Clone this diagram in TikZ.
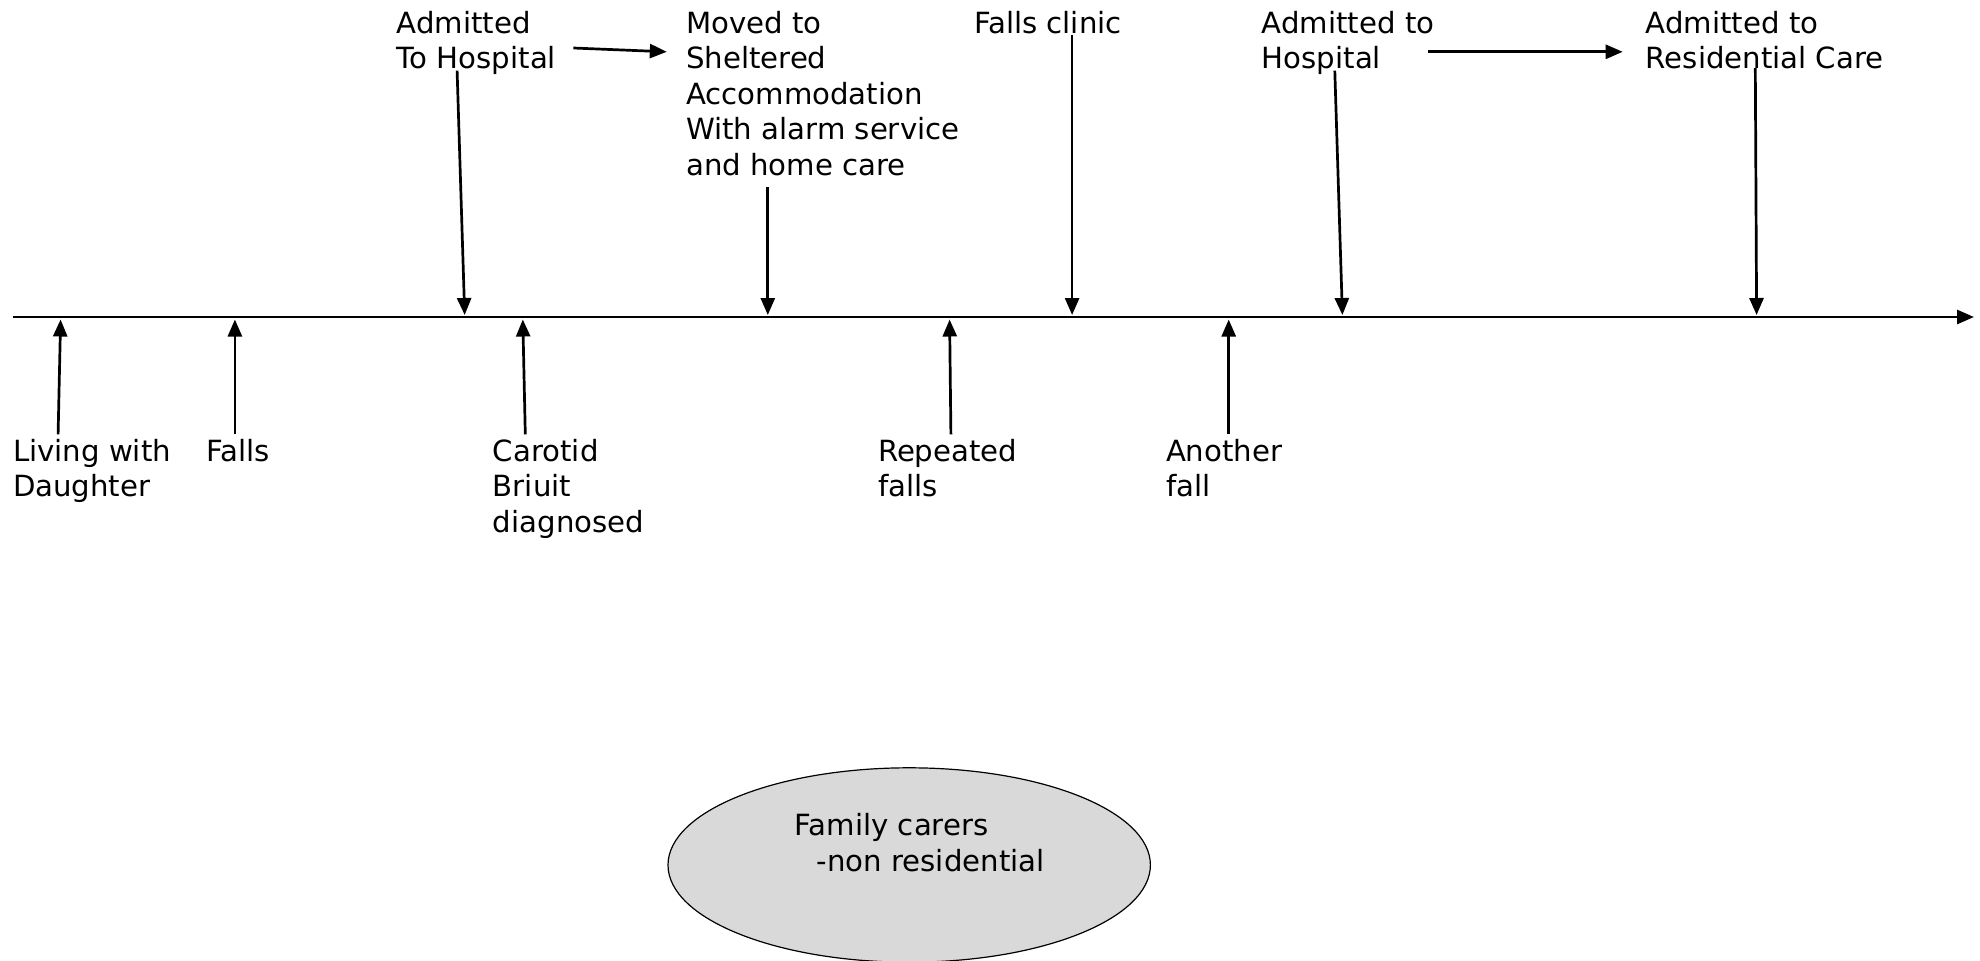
\documentclass[tikz,border=0pt]{standalone}
\usepackage{fontspec}
\setmainfont{DejaVu Sans}
\usetikzlibrary{arrows.meta}
\begin{document}
\begin{tikzpicture}[x=0.5pt,y=-0.5pt,
  lbl/.style={anchor=north west,inner sep=0pt,align=left,font=\fontsize{14.6pt}{17.7pt}\selectfont},
  conn/.style={line width=1.35pt,-{Triangle[length=8.5pt,width=7pt]}},
  carer/.style={line width=0.6pt,fill=gray!30}
]
\useasboundingbox (0,0) rectangle (1980,960);
% timeline
\coordinate (tl0) at (12.6,317);
\coordinate (tl1) at (1974,317);
\draw[conn] (tl0) -- (tl1);

% labels below
\node[lbl] (living) at (12.6,439) {Living with\\Daughter};
\node[lbl] (falls) at (205.8,439) {Falls};
\node[lbl] (carotid) at (492.5,439) {Carotid\\Briuit\\diagnosed};
\node[lbl] (repeated) at (877.6,439) {Repeated\\falls};
\node[lbl] (another) at (1165.6,439) {Another\\fall};

% labels above
\node[lbl] (adm1) at (396.5,11) {Admitted\\To Hospital};
\node[lbl] (moved) at (685.7,11) {Moved to\\Sheltered\\Accommodation\\With alarm service\\and home care};
\node[lbl] (clinic) at (973.6,11) {Falls clinic};
\node[lbl] (adm2) at (1261.5,11) {Admitted to\\Hospital};
\node[lbl] (resid) at (1645.4,11) {Admitted to\\Residential Care};

% arrow end points
\coordinate (livS) at (58.1,434.4);   \coordinate (livE) at (60.6,319.5);
\coordinate (falS) at (234.9,434.4);  \coordinate (falE) at (234.9,319.5);
\coordinate (carS) at (525.3,434.4);  \coordinate (carE) at (522.8,319.5);
\coordinate (repS) at (950.9,434.4);  \coordinate (repE) at (949.6,319.5);
\coordinate (anoS) at (1228.7,434.4); \coordinate (anoE) at (1228.7,319.5);

\coordinate (ad1S) at (457.1,70.7);   \coordinate (ad1E) at (464.7,315);
\coordinate (movS) at (767.8,186.9);  \coordinate (movE) at (767.8,315);
\coordinate (cliS) at (1072.1,35.4);  \coordinate (cliE) at (1072.1,315);
\coordinate (ad2S) at (1334.8,70.7);  \coordinate (ad2E) at (1342.4,315);
\coordinate (resS) at (1755.3,68.2);  \coordinate (resE) at (1756.6,315);

\coordinate (h1S) at (573.3,48);   \coordinate (h1E) at (666.8,51.8);
\coordinate (h2S) at (1428.3,51.8); \coordinate (h2E) at (1622.7,51.8);

\draw[conn] (livS) -- (livE);
\draw[conn] (falS) -- (falE);
\draw[conn] (carS) -- (carE);
\draw[conn] (repS) -- (repE);
\draw[conn] (anoS) -- (anoE);
\draw[conn] (ad1S) -- (ad1E);
\draw[conn] (movS) -- (movE);
\draw[conn] (cliS) -- (cliE);
\draw[conn] (ad2S) -- (ad2E);
\draw[conn] (resS) -- (resE);
\draw[conn] (h1S) -- (h1E);
\draw[conn] (h2S) -- (h2E);

% ellipse
\draw[carer] (909.2,865) ellipse [x radius=241.2, y radius=97.2];
\node[lbl] (family) at (794.3,813) {Family carers\\\hspace*{11pt}-non residential};
\end{tikzpicture}
\end{document}
